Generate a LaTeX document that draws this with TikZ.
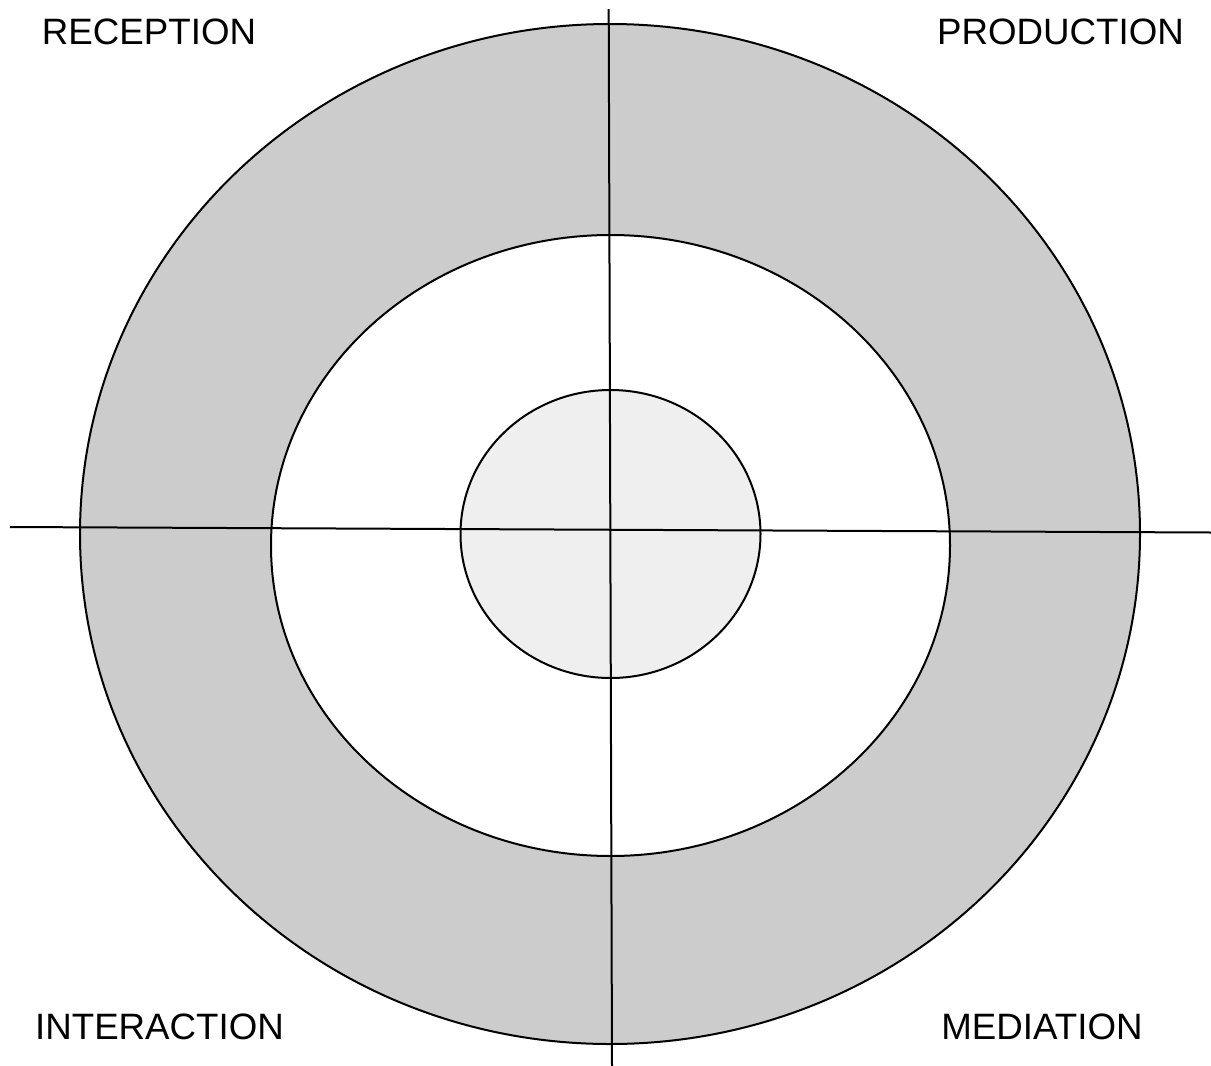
\documentclass[tikz,border=0pt]{standalone}
\usepackage{fontspec}
\setmainfont{Liberation Sans}
\definecolor{ringgray}{HTML}{CCCCCC}
\definecolor{coregray}{HTML}{EFEFEF}
\begin{document}
\begin{tikzpicture}[x=1pt,y=-1pt,
  ring/.style={draw=black,line width=2pt},
  axis/.style={draw=black,line width=2pt},
  lbl/.style={font=\fontsize{36.7}{36.7}\selectfont,inner sep=0pt,anchor=base}]
\useasboundingbox (0,0) rectangle (1211,1066);
\fill[white] (0,0) rectangle (1211,1066);
\draw[ring,fill=ringgray] (610,534) ellipse [x radius=530,y radius=510];
\draw[ring,fill=white] (610.5,545.5) ellipse [x radius=339.5,y radius=310.5];
\draw[ring,fill=coregray] (610.5,534) ellipse [x radius=150,y radius=144];
\coordinate (vtop) at (608.7,9);
\coordinate (vbot) at (612,1066);
\coordinate (hl) at (10,527);
\coordinate (hr) at (1211,532.5);
\draw[axis] (vtop) -- (vbot);
\draw[axis] (hl) -- (hr);
\node[lbl] (rec) at (149,44.5) {RECEPTION};
\node[lbl] (prod) at (1060.5,44.5) {PRODUCTION};
\node[lbl] (inter) at (159.5,1039) {INTERACTION};
\node[lbl] (med) at (1042,1039) {MEDIATION};
\end{tikzpicture}
\end{document}
